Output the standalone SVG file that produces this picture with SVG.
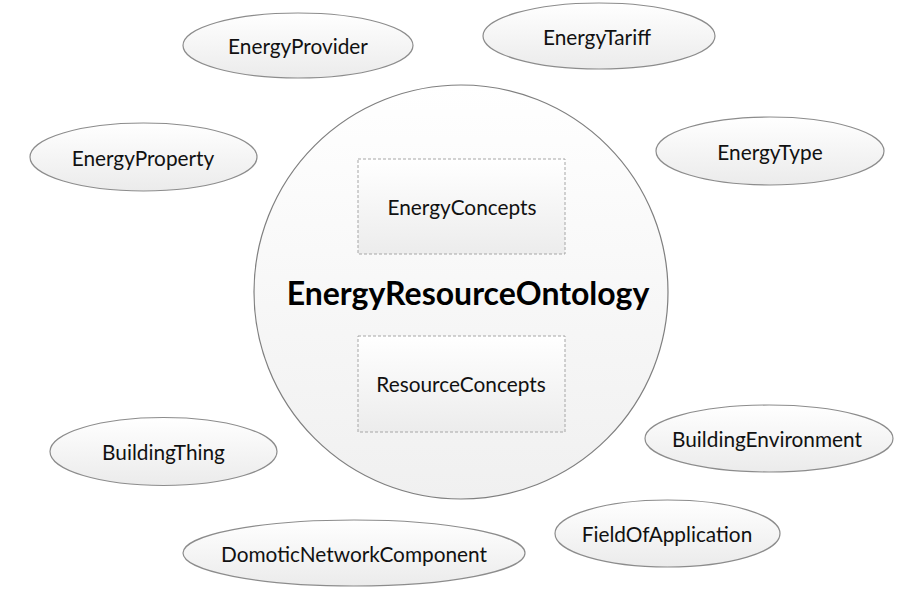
<svg xmlns="http://www.w3.org/2000/svg" width="911" height="597" viewBox="0 0 911 597">
<defs>
<linearGradient id="eg" x1="0" y1="0" x2="0" y2="1">
<stop offset="0" stop-color="#ffffff"/>
<stop offset="1" stop-color="#ebebeb"/>
</linearGradient>
<linearGradient id="cg" x1="0" y1="0" x2="0" y2="1">
<stop offset="0" stop-color="#ffffff"/>
<stop offset="1" stop-color="#f0f0f0"/>
</linearGradient>
<linearGradient id="rg" x1="0" y1="0" x2="0" y2="1">
<stop offset="0" stop-color="#ffffff"/>
<stop offset="1" stop-color="#ececec"/>
</linearGradient>
</defs>
<style>
.ell{fill:url(#eg);stroke:#8c8c8c;stroke-width:1.2}
.lbl{font-family:Lato,"Liberation Sans",Arial,sans-serif;font-size:20.8px;fill:#111;text-anchor:middle;dominant-baseline:central}
.box{fill:url(#rg);stroke:#a6a6a6;stroke-width:1;stroke-dasharray:3 2}
.title{font-family:Lato,"Liberation Sans",Arial,sans-serif;font-size:32px;font-weight:bold;fill:#000;text-anchor:middle;dominant-baseline:central}
</style>
<rect width="911" height="597" fill="#ffffff"/>
<g id="EnergyResourceOntology">
<circle cx="461" cy="292" r="207" fill="url(#cg)" stroke="#7f7f7f" stroke-width="1.2"/>
<text class="title" x="468" y="292">EnergyResourceOntology</text>
</g>
<g id="EnergyConcepts">
<rect class="box" x="358" y="159" width="207" height="95"/>
<text class="lbl" x="462" y="206">EnergyConcepts</text>
</g>
<g id="ResourceConcepts">
<rect class="box" x="358" y="336" width="207" height="96"/>
<text class="lbl" x="461" y="383">ResourceConcepts</text>
</g>
<g id="EnergyProvider">
<ellipse class="ell" cx="298" cy="45.5" rx="115" ry="32.5"/>
<text class="lbl" x="298" y="45">EnergyProvider</text>
</g>
<g id="EnergyTariff">
<ellipse class="ell" cx="599" cy="36" rx="116" ry="33"/>
<text class="lbl" x="597" y="36">EnergyTariff</text>
</g>
<g id="EnergyProperty">
<ellipse class="ell" cx="143.5" cy="157" rx="113.5" ry="34"/>
<text class="lbl" x="143" y="157">EnergyProperty</text>
</g>
<g id="EnergyType">
<ellipse class="ell" cx="770" cy="151" rx="114" ry="34"/>
<text class="lbl" x="770" y="151">EnergyType</text>
</g>
<g id="BuildingThing">
<ellipse class="ell" cx="163.5" cy="451.5" rx="113.5" ry="34"/>
<text class="lbl" x="163.5" y="451">BuildingThing</text>
</g>
<g id="BuildingEnvironment">
<ellipse class="ell" cx="769" cy="438.5" rx="124" ry="33.5"/>
<text class="lbl" x="767" y="438">BuildingEnvironment</text>
</g>
<g id="FieldOfApplication">
<ellipse class="ell" cx="667.5" cy="533.5" rx="112.5" ry="33.5"/>
<text class="lbl" x="667" y="533">FieldOfApplication</text>
</g>
<g id="DomoticNetworkComponent">
<ellipse class="ell" cx="354" cy="553" rx="171" ry="33"/>
<text class="lbl" x="354" y="553">DomoticNetworkComponent</text>
</g>
<g id="connectors"/>
</svg>
